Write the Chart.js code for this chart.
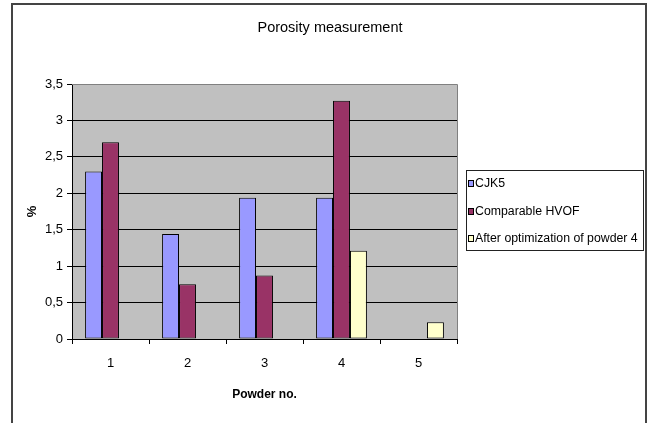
<!DOCTYPE html>
<html>
<head>
<meta charset="utf-8">
<script src="https://cdn.jsdelivr.net/npm/chart.js@4.4.1/dist/chart.umd.min.js"></script>
<style>
  html, body { margin: 0; padding: 0; background: #fff; }
  #wrap { width: 652px; height: 423px; position: relative; }
</style>
</head>
<body>
<div id="wrap"><canvas id="c" width="652" height="423"></canvas></div>
<script>
  // Porosity measurement — grouped bars per powder number.
  var powders = ["1", "2", "3", "4", "5"];
  var cjk5 = [2.3, 1.44, 1.94, 1.94, null];
  var comparableHvof = [2.7, 0.75, 0.87, 3.27, null];
  var afterOptimization = [null, null, null, 1.21, 0.23];
  var yTicks = [0, 0.5, 1, 1.5, 2, 2.5, 3, 3.5];

  var FONT = "'Liberation Sans', Arial, sans-serif";

  // frame + plot area edge + title + boxed legend, Excel 2003 style
  var decorations = {
    id: "decorations",
    beforeDraw: function (chart) {
      var ctx = chart.ctx, a = chart.chartArea;
      ctx.save();
      ctx.fillStyle = "#c0c0c0";
      ctx.fillRect(a.left, a.top, a.right - a.left, a.bottom - a.top);
      ctx.restore();
    },
    afterDraw: function (chart) {
      var ctx = chart.ctx, a = chart.chartArea;
      ctx.save();
      // outer chart frame
      ctx.strokeStyle = "#444";
      ctx.lineWidth = 2;
      ctx.beginPath();
      ctx.moveTo(12, 423);
      ctx.lineTo(12, 4);
      ctx.lineTo(646, 4);
      ctx.lineTo(646, 423);
      ctx.stroke();

      // plot area top/right edge
      ctx.strokeStyle = "#808080";
      ctx.lineWidth = 1;
      ctx.beginPath();
      ctx.moveTo(a.left, a.top + 0.5);
      ctx.lineTo(a.right + 0.5, a.top + 0.5);
      ctx.lineTo(a.right + 0.5, a.bottom);
      ctx.stroke();

      // title
      ctx.fillStyle = "#000";
      ctx.font = "14.5px " + FONT;
      ctx.textAlign = "center";
      ctx.textBaseline = "middle";
      ctx.fillText("Porosity measurement", 330, 28);

      // legend
      ctx.strokeStyle = "#222";
      ctx.lineWidth = 1;
      ctx.strokeRect(466.5, 170.5, 177, 80);
      ctx.font = "12.3px " + FONT;
      ctx.textAlign = "left";
      var ys = [184, 212, 239];
      chart.data.datasets.forEach(function (ds, i) {
        ctx.fillStyle = ds.backgroundColor;
        ctx.fillRect(468.5, ys[i] - 3.5, 5, 6);
        ctx.strokeStyle = "#000";
        ctx.strokeRect(468.5, ys[i] - 3.5, 5, 6);
        ctx.fillStyle = "#000";
        ctx.fillText(ds.label, 475, ys[i]);
      });
      ctx.restore();
    }
  };

  new Chart(document.getElementById("c"), {
    type: "bar",
    data: {
      labels: powders,
      datasets: [
        { label: "CJK5", data: cjk5, backgroundColor: "#9999ff" },
        { label: "Comparable HVOF", data: comparableHvof, backgroundColor: "#993366" },
        { label: "After optimization of powder 4", data: afterOptimization, backgroundColor: "#ffffcc" }
      ].map(function (d) {
        d.borderColor = "#000";
        d.borderWidth = 1;
        d.borderSkipped = false;
        d.categoryPercentage = 0.66;
        d.barPercentage = 1;
        return d;
      })
    },
    options: {
      responsive: false,
      animation: false,
      devicePixelRatio: 1,
      layout: { padding: { top: 84, right: 195, left: 21, bottom: 18 } },
      scales: {
        x: {
          grid: { offset: true, drawOnChartArea: false, drawTicks: true, tickLength: 5, color: "#000" },
          border: { color: "#000", width: 1 },
          ticks: { color: "#000", padding: 12, font: { family: FONT, size: 13 } },
          title: { display: true, text: "Powder no.", color: "#000", padding: { top: 0, bottom: 3 },
                   font: { family: FONT, size: 12, weight: "bold" } },
          afterFit: function (s) { s.height = 66; }
        },
        y: {
          min: 0, max: 3.5,
          afterBuildTicks: function (s) { s.ticks = yTicks.map(function (v) { return { value: v }; }); },
          grid: { color: "#000", tickLength: 5 },
          border: { color: "#000", width: 1 },
          ticks: {
            color: "#000", padding: 4, font: { family: FONT, size: 13 },
            callback: function (v) { return String(v).replace(".", ","); }
          },
          title: { display: true, text: "%", color: "#000", padding: { top: 4, bottom: 0 },
                   font: { family: FONT, size: 13, weight: "bold" } },
          afterFit: function (s) { s.width = 51; }
        }
      },
      plugins: { legend: { display: false }, title: { display: false }, tooltip: { enabled: false } }
    },
    plugins: [decorations]
  });
</script>
</body>
</html>
